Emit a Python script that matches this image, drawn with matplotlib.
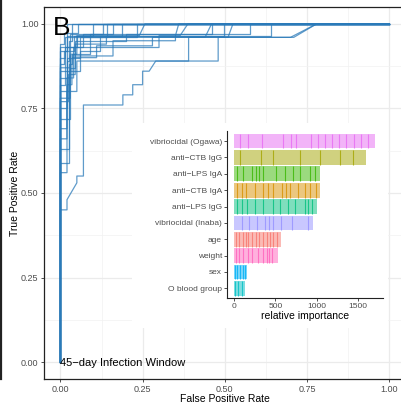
import numpy as np
import matplotlib
matplotlib.use('Agg')
import matplotlib.pyplot as plt
from matplotlib.patches import Rectangle
from matplotlib.lines import Line2D

plt.rcParams['font.family'] = ['Liberation Sans', 'DejaVu Sans']

# ROC curves (fpr, tpr)
roc_curves = [
    [(0, 0), (0, 0.94), (0.01, 0.94), (0.01, 0.973), (0.054, 0.973), (0.054, 1), (1, 1)],
    [(0, 0), (0, 0.92), (0.02, 0.92), (0.02, 0.965), (0.10, 0.965), (0.10, 1), (1, 1)],
    [(0, 0), (0, 0.90), (0.015, 0.90), (0.015, 0.96), (0.142, 0.96), (0.142, 1), (1, 1)],
    [(0, 0), (0, 0.86), (0.03, 0.86), (0.03, 0.97), (0.16, 0.97), (0.16, 1), (1, 1)],
    [(0, 0), (0, 0.84), (0.02, 0.84), (0.02, 0.93), (0.05, 0.93), (0.05, 0.965), (0.188, 0.965), (0.188, 1), (1, 1)],
    [(0, 0), (0, 0.80), (0.02, 0.80), (0.02, 0.90), (0.06, 0.90), (0.06, 0.96), (0.233, 0.96), (0.233, 1), (1, 1)],
    [(0, 0), (0, 0.78), (0.03, 0.78), (0.03, 0.91), (0.05, 0.91), (0.05, 0.965), (0.24, 0.965), (0.257, 1), (1, 1)],
    [(0, 0), (0, 0.69), (0.02, 0.69), (0.02, 0.84), (0.04, 0.84), (0.04, 0.93), (0.30, 0.93), (0.30, 0.965), (0.364, 0.965), (0.388, 1), (1, 1)],
    [(0, 0), (0, 0.63), (0.025, 0.63), (0.025, 0.88), (0.035, 0.88), (0.035, 0.91), (0.09, 0.91), (0.09, 0.97), (0.461, 0.97), (0.461, 1), (1, 1)],
    [(0, 0), (0, 0.59), (0.025, 0.59), (0.025, 0.86), (0.06, 0.86), (0.06, 0.92), (0.12, 0.92), (0.12, 0.965), (0.497, 0.965), (0.497, 1), (1, 1)],
    [(0, 0), (0, 0.56), (0.02, 0.56), (0.02, 0.80), (0.05, 0.80), (0.05, 0.89), (0.39, 0.89), (0.39, 0.96), (0.51, 0.96), (0.525, 1), (1, 1)],
    [(0, 0), (0, 0.72), (0.03, 0.72), (0.03, 0.87), (0.045, 0.87), (0.045, 0.95), (0.20, 0.95), (0.20, 0.97), (0.577, 0.97), (0.577, 1), (1, 1)],
    [(0, 0), (0, 0.88), (0.01, 0.88), (0.01, 0.92), (0.04, 0.92), (0.04, 0.965), (0.64, 0.965), (0.64, 1), (1, 1)],
    [(0, 0), (0, 0.45), (0.02, 0.45), (0.02, 0.48), (0.05, 0.53), (0.05, 0.55), (0.07, 0.55), (0.07, 0.76),
     (0.19, 0.76), (0.19, 0.79), (0.22, 0.79), (0.22, 0.82), (0.25, 0.82), (0.25, 0.86), (0.27, 0.86),
     (0.29, 0.89), (0.48, 0.89), (0.48, 0.96), (0.70, 0.96), (0.78, 1), (1, 1)],
    [(0, 0), (0, 0.66), (0.02, 0.66), (0.02, 0.82), (0.035, 0.82), (0.035, 0.90), (0.11, 0.90), (0.11, 0.935),
     (0.28, 0.935), (0.28, 0.96), (0.71, 0.96), (0.78, 1), (1, 1)],
    [(0, 0), (0, 0.82), (0.015, 0.82), (0.015, 0.93), (0.07, 0.93), (0.07, 0.97), (0.13, 0.97), (0.13, 1), (1, 1)],
    [(0, 0), (0, 0.75), (0.02, 0.75), (0.02, 0.89), (0.025, 0.89), (0.025, 0.95), (0.036, 0.95), (0.036, 1), (1, 1)],
    [(0, 0), (0, 0.93), (0.02, 0.93), (0.02, 1), (1, 1)],
    [(0, 0), (0, 0.87), (0.03, 0.87), (0.03, 0.905), (0.16, 0.905), (0.16, 0.95), (0.35, 0.95), (0.35, 0.965), (0.36, 1), (1, 1)],
    [(0, 0), (0, 0.77), (0.025, 0.77), (0.025, 0.85), (0.045, 0.85), (0.045, 0.94), (0.14, 0.94), (0.14, 0.96), (0.44, 0.96), (0.46, 1), (1, 1)],
]

# variable importance (one segment per fold), top to bottom
features = ['vibriocidal (Ogawa)', 'anti\u2212CTB IgG', 'anti\u2212LPS IgA', 'anti\u2212CTB IgA',
            'anti\u2212LPS IgG', 'vibriocidal (Inaba)', 'age', 'weight', 'sex', 'O blood group']
seg_ogawa = [72, 100, 161, 261, 89, 72, 173, 88, 80, 88, 85, 89, 88, 84, 88, 89]
seg_ctb_igg = [72, 249, 153, 321, 249, 233, 160, 162]
seg_lps_iga = [40, 72, 101, 52, 40, 48, 153, 108, 101, 80, 121, 60, 60]
seg_ctb_iga = [40, 52, 53, 108, 100, 60, 61, 100, 53, 48, 100, 80, 61, 72, 48]
seg_lps_igg = [32, 60, 61, 100, 100, 121, 80, 100, 81, 120, 40, 53, 56]
seg_inaba = [92, 92, 89, 100, 52, 41, 96, 133, 200, 57]
seg_age = [24, 40, 41, 40, 27, 41, 52, 40, 48, 41, 40, 40, 40, 52]
seg_weight = [24, 40, 41, 67, 41, 80, 60, 41, 31, 29, 76]
seg_sex = [12, 28, 32, 33, 28, 20]
seg_blood = [12, 40, 40, 41]
segments = [seg_ogawa, seg_ctb_igg, seg_lps_iga, seg_ctb_iga, seg_lps_igg,
            seg_inaba, seg_age, seg_weight, seg_sex, seg_blood]
colors = ['#E76BF3', '#A3A500', '#39B600', '#D89000', '#00BF7D',
          '#9590FF', '#F8766D', '#FF62BC', '#00B0F6', '#00BFC4']

fig = plt.figure(figsize=(4.01, 4.04), dpi=100)
ax = fig.add_axes([0.1097, 0.0619, 0.9015, 0.921])

for c in roc_curves:
    c = np.array(c)
    ax.plot(c[:, 0], c[:, 1], color='#2a7ab9', lw=0.9, alpha=0.75, zorder=3)

ax.set_xlim(-0.05, 1.05)
ax.set_ylim(-0.05, 1.05)
ticks = [0, 0.25, 0.5, 0.75, 1.0]
ax.set_xticks(ticks)
ax.set_yticks(ticks)
ax.set_xticklabels(['%.2f' % t for t in ticks])
ax.set_yticklabels(['%.2f' % t for t in ticks])
ax.set_xticks([0.125, 0.375, 0.625, 0.875], minor=True)
ax.set_yticks([0.125, 0.375, 0.625, 0.875], minor=True)
ax.grid(which='major', color='#ebebeb', lw=0.9)
ax.grid(which='minor', color='#f2f2f2', lw=0.5)
ax.set_axisbelow(True)
ax.tick_params(which='major', labelsize=6.5, labelcolor='#4d4d4d', color='#333333',
               length=2.5, width=0.6, pad=1.5)
ax.tick_params(which='minor', length=0)
for s in ax.spines.values():
    s.set_color('#222222')
    s.set_linewidth(0.9)
ax.set_xlabel('False Positive Rate', fontsize=7.5, labelpad=0.5)
ax.set_ylabel('True Positive Rate', fontsize=7.5, labelpad=1)
ax.text(0.0, -0.003, '45\u2212day Infection Window', fontsize=8, ha='left', va='center', zorder=5)
ax.text(-0.022, 1.022, 'B', fontsize=19, ha='left', va='top', zorder=5)

# white panel behind inset
fig.patches.append(Rectangle((132 / 401, 1 - 328 / 404), (388 - 132) / 401, (328 - 123) / 404,
                             transform=fig.transFigure, facecolor='white', edgecolor='none', zorder=1))
fig.lines.append(Line2D([0.003, 0.003], [(404 - 379) / 404, 1], transform=fig.transFigure,
                        color='#222222', lw=1.6))

ins = fig.add_axes([0.566, 0.262, 0.389, 0.413])
ins.set_zorder(2)
ins.patch.set_alpha(0)
ypos = np.arange(len(features))
for i, segs in enumerate(segments):
    edges = np.concatenate([[0], np.cumsum(segs)])
    ins.barh(ypos[i], segs, left=edges[:-1], height=0.9, color=colors[i], alpha=0.5, edgecolor='none')
    ins.vlines(edges[1:-1], ypos[i] - 0.45, ypos[i] + 0.45, color=colors[i], lw=0.8, alpha=0.8)
ins.set_ylim(9.6, -0.6)
ins.set_xlim(-85, 1800)
ins.set_yticks(ypos)
ins.set_yticklabels(features)
ins.set_xticks([0, 500, 1000, 1500])
ins.tick_params(labelsize=6, labelcolor='#4d4d4d', color='#333333', length=2, width=0.6, pad=1.5)
ins.spines['top'].set_visible(False)
ins.spines['right'].set_visible(False)
ins.spines['left'].set_color('#222222')
ins.spines['bottom'].set_color('#222222')
ins.set_xlabel('relative importance', fontsize=7.5, labelpad=1)

fig.savefig('out.png', dpi=100)
